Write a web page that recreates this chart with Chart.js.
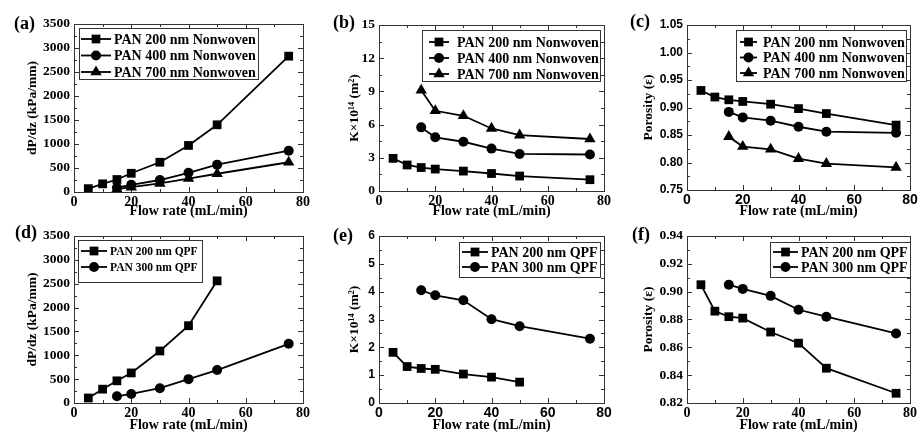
<!DOCTYPE html>
<html>
<head>
<meta charset="utf-8">
<script src="https://cdn.jsdelivr.net/npm/chart.js@4.4.0/dist/chart.umd.min.js"></script>
<style>
    body { margin: 0; background: #fff; }
    #fig { position: relative; width: 920px; height: 432px; overflow: hidden; }
    .panel { position: absolute; }
    .tag { position: absolute; font: bold 18px 'Liberation Serif', 'Times New Roman', serif; line-height: 18px; color: #000; }
</style>
</head>
<body>
<div id="fig">
    <canvas class="panel" id="chartA" width="316" height="218" style="left:0;top:0"></canvas>
    <canvas class="panel" id="chartB" width="310" height="218" style="left:306px;top:0"></canvas>
    <canvas class="panel" id="chartC" width="314" height="218" style="left:606px;top:0"></canvas>
    <canvas class="panel" id="chartD" width="316" height="218" style="left:0;top:214px"></canvas>
    <canvas class="panel" id="chartE" width="310" height="218" style="left:306px;top:214px"></canvas>
    <canvas class="panel" id="chartF" width="314" height="218" style="left:606px;top:214px"></canvas>
    <div class="tag" style="left:14px;top:14px">(a)</div>
    <div class="tag" style="left:333px;top:13px">(b)</div>
    <div class="tag" style="left:630px;top:12px">(c)</div>
    <div class="tag" style="left:15px;top:223px">(d)</div>
    <div class="tag" style="left:333px;top:226px">(e)</div>
    <div class="tag" style="left:632px;top:225px">(f)</div>
</div>
<script>
// flow rates (mL/min)
const flowAll = [5, 10, 15, 20, 30, 40, 50, 75];
const flowFrom15 = [15, 20, 30, 40, 50, 75];
const flowTo50 = [5, 10, 15, 20, 30, 40, 50];

// nonwoven: pressure drop (kPa/mm)
const dpN200 = [70, 170, 260, 390, 620, 970, 1400, 2830];
const dpN400 = [90, 150, 250, 400, 570, 860];
const dpN700 = [60, 100, 180, 280, 380, 620];

// nonwoven: permeability K x 10^14 (m^2)
const kN200 = [2.95, 2.35, 2.12, 1.98, 1.8, 1.58, 1.35, 1.02];
const kN400 = [5.75, 4.85, 4.45, 3.83, 3.35, 3.3];
const kN700 = [9.1, 7.25, 6.8, 5.65, 5.05, 4.7];

// nonwoven: porosity
const pN200 = [0.931, 0.919, 0.914, 0.911, 0.906, 0.898, 0.889, 0.868];
const pN400 = [0.892, 0.882, 0.876, 0.865, 0.856, 0.854];
const pN700 = [0.847, 0.829, 0.824, 0.807, 0.798, 0.791];

// QPF
const dpQ200 = [105, 290, 465, 630, 1090, 1620, 2560];
const dpQ300 = [140, 190, 310, 500, 690, 1240];
const kQ200 = [1.82, 1.31, 1.24, 1.21, 1.04, 0.93, 0.75];
const kQ300 = [4.05, 3.87, 3.69, 3.01, 2.76, 2.31];
const pQ200 = [0.905, 0.886, 0.882, 0.881, 0.871, 0.863, 0.845, 0.827];
const pQ300 = [0.905, 0.902, 0.897, 0.887, 0.882, 0.870];

const xTicks = { min: 0, max: 80, step: 20 };

const serif = "'Liberation Serif', 'Times New Roman', serif";
const sans = "'Liberation Sans', Arial, sans-serif";
Chart.defaults.color = '#000';

function drawMarker(ctx, style, x, y, r) {
    ctx.beginPath();
    if (style === 'rect') {
        const s = Math.SQRT1_2 * r;
        ctx.rect(x - s, y - s, 2 * s, 2 * s);
    } else if (style === 'triangle') {
        ctx.moveTo(x, y - r);
        ctx.lineTo(x + r * 0.866, y + r / 2);
        ctx.lineTo(x - r * 0.866, y + r / 2);
        ctx.closePath();
    } else {
        ctx.arc(x, y, r, 0, Math.PI * 2);
    }
    ctx.fill();
}

// box with inward major/minor ticks on all four sides
const frameTicks = {
    id: 'frameTicks',
    beforeDatasetsDraw(chart) {
        const { ctx, chartArea: a, scales: { x, y } } = chart;
        ctx.save();
        ctx.strokeStyle = '#333';
        ctx.lineWidth = 1;
        ctx.strokeRect(Math.round(a.left) + 0.5, Math.round(a.top) + 0.5,
            Math.round(a.right - a.left), Math.round(a.bottom - a.top));
        const seg = (x1, y1, x2, y2) => { ctx.beginPath(); ctx.moveTo(x1, y1); ctx.lineTo(x2, y2); ctx.stroke(); };
        const xv = x.ticks.map(t => t.value);
        xv.forEach((v, i) => {
            const px = Math.round(x.getPixelForValue(v)) + 0.5;
            seg(px, a.bottom, px, a.bottom - 5);
            seg(px, a.top, px, a.top + 5);
            if (i < xv.length - 1) {
                const m = Math.round(x.getPixelForValue((v + xv[i + 1]) / 2)) + 0.5;
                seg(m, a.bottom, m, a.bottom - 3);
                seg(m, a.top, m, a.top + 3);
            }
        });
        const yv = y.ticks.map(t => t.value);
        yv.forEach((v, i) => {
            const py = Math.round(y.getPixelForValue(v)) + 0.5;
            seg(a.left, py, a.left + 5, py);
            seg(a.right, py, a.right - 5, py);
            if (i < yv.length - 1) {
                const m = Math.round(y.getPixelForValue((v + yv[i + 1]) / 2)) + 0.5;
                seg(a.left, m, a.left + 3, m);
                seg(a.right, m, a.right - 3, m);
            }
        });
        ctx.restore();
    }
};

// framed legend drawn inside the plot
const boxLegend = {
    id: 'boxLegend',
    afterDraw(chart, args, o) {
        if (!o || !o.box) return;
        const ctx = chart.ctx;
        const [bx, by, bw, bh] = o.box;
        ctx.save();
        ctx.fillStyle = '#fff';
        ctx.fillRect(bx, by, bw, bh);
        ctx.strokeStyle = '#333';
        ctx.lineWidth = 1;
        ctx.strokeRect(bx + 0.5, by + 0.5, bw, bh);
        ctx.font = 'bold ' + o.size + 'px ' + serif;
        ctx.textBaseline = 'middle';
        chart.data.datasets.forEach((ds, i) => {
            const cy = o.y0 + i * o.dy;
            ctx.strokeStyle = '#000';
            ctx.lineWidth = 1.8;
            ctx.beginPath();
            ctx.moveTo(o.x0, cy);
            ctx.lineTo(o.x1, cy);
            ctx.stroke();
            ctx.fillStyle = '#000';
            drawMarker(ctx, ds.pointStyle, (o.x0 + o.x1) / 2, cy, ds.pointRadius);
            ctx.fillText(ds.label, o.tx, cy + 1);
        });
        ctx.restore();
    }
};

Chart.register(frameTicks, boxLegend);

function series(label, xs, ys, style) {
    const radius = { rect: 6.2, circle: 5, triangle: 6.6 }[style];
    return {
        label: label,
        data: xs.map((x, i) => ({ x: x, y: ys[i] })),
        borderColor: '#000',
        backgroundColor: '#000',
        borderWidth: 1.8,
        pointStyle: style,
        pointRadius: radius,
        pointBackgroundColor: '#000',
        pointBorderColor: '#000',
        pointBorderWidth: 0,
        tension: 0
    };
}

function panelOptions(p) {
    return {
        responsive: false,
        animation: false,
        layout: { padding: { left: p.padLeft, right: p.padRight, top: p.padTop, bottom: 0 } },
        plugins: {
            legend: { display: false },
            tooltip: { enabled: false },
            boxLegend: p.legend
        },
        scales: {
            x: {
                type: 'linear',
                min: xTicks.min, max: xTicks.max,
                ticks: { stepSize: xTicks.step, padding: 2, autoSkip: false, maxRotation: 0,
                    font: { family: p.tickFamily, size: 14, weight: 'bold' } },
                grid: { display: false, drawTicks: false, tickLength: 0 },
                border: { display: false },
                title: { display: true, text: 'Flow rate (mL/min)', padding: 0,
                    font: { family: serif, size: 14, weight: 'bold', lineHeight: 1 } },
                afterFit: s => { s.height = p.xHeight; s.paddingLeft = 0; s.paddingRight = 0; }
            },
            y: {
                min: p.yMin, max: p.yMax,
                ticks: { stepSize: p.yStep, padding: 4, autoSkip: false,
                    font: { family: p.tickFamily, size: p.tickFamily === sans ? 12 : 13.5, weight: 'bold' },
                    callback: v => v.toFixed(p.dec) },
                grid: { display: false, drawTicks: false, tickLength: 0 },
                border: { display: false },
                title: { display: true, text: p.yTitle, padding: 0,
                    font: { family: serif, size: 13.5, weight: 'bold', lineHeight: 1 } },
                afterFit: s => { s.width = p.yWidth; s.paddingTop = 0; s.paddingBottom = 0; }
            }
        }
    };
}

// (a) presión, nonwoven
new Chart(document.getElementById('chartA'), {
    type: 'line',
    data: { datasets: [
        series('PAN 200 nm Nonwoven', flowAll, dpN200, 'rect'),
        series('PAN 400 nm Nonwoven', flowFrom15, dpN400, 'circle'),
        series('PAN 700 nm Nonwoven', flowFrom15, dpN700, 'triangle')
    ] },
    options: panelOptions({ padLeft: 26, yWidth: 48, padRight: 13, padTop: 24, xHeight: 26,
        yMin: 0, yMax: 3500, yStep: 500, dec: 0, tickFamily: serif, yTitle: 'dP/dz (kPa/mm)',
        legend: { box: [79, 28, 179, 51], y0: 39, dy: 16.5, x0: 81, x1: 111, tx: 114, size: 14 } })
});

// (b) permeabilidad, nonwoven
new Chart(document.getElementById('chartB'), {
    type: 'line',
    data: { datasets: [
        series('PAN 200 nm Nonwoven', flowAll, kN200, 'rect'),
        series('PAN 400 nm Nonwoven', flowFrom15, kN400, 'circle'),
        series('PAN 700 nm Nonwoven', flowFrom15, kN700, 'triangle')
    ] },
    options: panelOptions({ padLeft: 42, yWidth: 31, padRight: 12, padTop: 25, xHeight: 27,
        yMin: 0, yMax: 15, yStep: 3, dec: 0, tickFamily: serif, yTitle: 'K×10¹⁴ (m²)',
        legend: { box: [116, 30, 178, 51], y0: 42, dy: 16, x0: 123, x1: 143, tx: 151, size: 14 } })
});

// (c) porosidad, nonwoven
new Chart(document.getElementById('chartC'), {
    type: 'line',
    data: { datasets: [
        series('PAN 200 nm Nonwoven', flowAll, pN200, 'rect'),
        series('PAN 400 nm Nonwoven', flowFrom15, pN400, 'circle'),
        series('PAN 700 nm Nonwoven', flowFrom15, pN700, 'triangle')
    ] },
    options: panelOptions({ padLeft: 36, yWidth: 45, padRight: 10, padTop: 25, xHeight: 28,
        yMin: 0.75, yMax: 1.05, yStep: 0.05, dec: 2, tickFamily: sans, yTitle: 'Porosity (ε)',
        legend: { box: [130, 30, 170, 51], y0: 42, dy: 15.5, x0: 134, x1: 151, tx: 157, size: 14 } })
});

// (d) presión, QPF
new Chart(document.getElementById('chartD'), {
    type: 'line',
    data: { datasets: [
        series('PAN 200 nm QPF', flowTo50, dpQ200, 'rect'),
        series('PAN 300 nm QPF', flowFrom15, dpQ300, 'circle')
    ] },
    options: panelOptions({ padLeft: 26, yWidth: 48, padRight: 13, padTop: 22, xHeight: 29,
        yMin: 0, yMax: 3500, yStep: 500, dec: 0, tickFamily: serif, yTitle: 'dP/dz (kPa/mm)',
        legend: { box: [78, 26, 124, 42], y0: 37, dy: 16, x0: 81, x1: 107, tx: 110, size: 11.5 } })
});

// (e) permeabilidad, QPF
new Chart(document.getElementById('chartE'), {
    type: 'line',
    data: { datasets: [
        series('PAN 200 nm QPF', flowTo50, kQ200, 'rect'),
        series('PAN 300 nm QPF', flowFrom15, kQ300, 'circle')
    ] },
    options: panelOptions({ padLeft: 42, yWidth: 31, padRight: 12, padTop: 22, xHeight: 29,
        yMin: 0, yMax: 6, yStep: 1, dec: 0, tickFamily: sans, yTitle: 'K×10¹⁴ (m²)',
        legend: { box: [153, 28, 141, 35], y0: 38, dy: 15, x0: 156, x1: 182, tx: 185, size: 14 } })
});

// (f) porosidad, QPF
new Chart(document.getElementById('chartF'), {
    type: 'line',
    data: { datasets: [
        series('PAN 200 nm QPF', flowAll, pQ200, 'rect'),
        series('PAN 300 nm QPF', flowFrom15, pQ300, 'circle')
    ] },
    options: panelOptions({ padLeft: 36, yWidth: 45, padRight: 10, padTop: 22, xHeight: 29,
        yMin: 0.82, yMax: 0.94, yStep: 0.02, dec: 2, tickFamily: serif, yTitle: 'Porosity (ε)',
        legend: { box: [164, 28, 140, 35], y0: 38, dy: 15, x0: 167, x1: 192, tx: 195, size: 14 } })
});
</script>
</body>
</html>
